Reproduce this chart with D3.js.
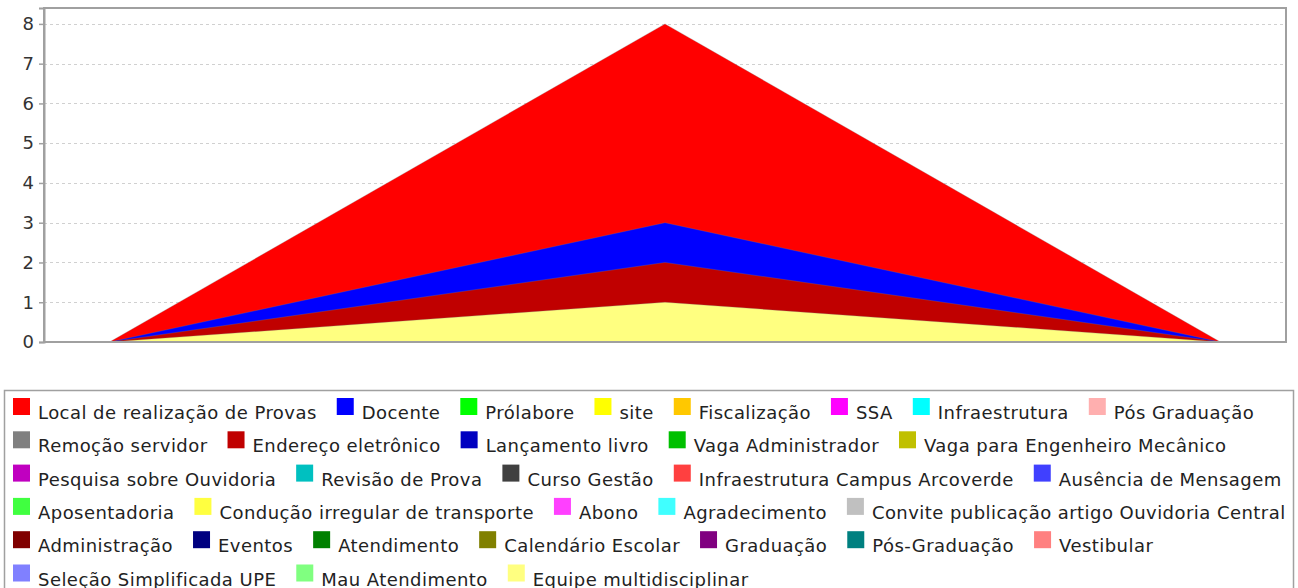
<!DOCTYPE html>
<html><head><meta charset="utf-8">
<script src="https://cdn.jsdelivr.net/npm/d3@7"></script>
<style>
body{margin:0;background:#fff;}
svg{display:block;font-family:"DejaVu Sans",sans-serif;}
</style></head>
<body><svg id="chart" width="1298" height="588"></svg>
<script>
// ---- data ----
const categories = [""];
const seriesNames = [
  "Local de realização de Provas","Docente","Prólabore","site","Fiscalização","SSA","Infraestrutura","Pós Graduação",
  "Remoção servidor","Endereço eletrônico","Lançamento livro","Vaga Administrador","Vaga para Engenheiro Mecânico",
  "Pesquisa sobre Ouvidoria","Revisão de Prova","Curso Gestão","Infraestrutura Campus Arcoverde","Ausência de Mensagem",
  "Aposentadoria","Condução irregular de transporte","Abono","Agradecimento","Convite publicação artigo Ouvidoria Central",
  "Administração","Eventos","Atendimento","Calendário Escolar","Graduação","Pós-Graduação","Vestibular",
  "Seleção Simplificada UPE","Mau Atendimento","Equipe multidisciplinar"
];
// one value per series for the single category
const seriesValues = [8,3,0,0,0,0,0,0, 0,2,0,0,0, 0,0,0,0,0, 0,0,0,0,0, 0,0,0,0,0,0,0, 0,0,1];
const yTicks = [0,1,2,3,4,5,6,7,8];
const palette = [
  "#FF0000","#0000FF","#00FF00","#FFFF00","#FFC800","#FF00FF","#00FFFF","#FFAFAF",
  "#808080","#C00000","#0000C0","#00C000","#C0C000","#C000C0","#00C0C0","#404040",
  "#FF4040","#4040FF","#40FF40","#FFFF40","#FF40FF","#40FFFF","#C0C0C0","#800000",
  "#000080","#008000","#808000","#800080","#008080","#FF8080","#8080FF","#80FF80","#FFFF80"
];

// ---- layout ----
const svg = d3.select("#chart");
const plot = {left:44, top:8, right:1286, bottom:342};

const x = d3.scaleBand().domain(categories).range([plot.left, plot.right])
  .paddingInner(0).paddingOuter(0.059);
const y = d3.scaleLinear().domain([0, 8.4]).range([plot.bottom, plot.top]);

// gridlines
svg.append("g").selectAll("line").data(yTicks).join("line")
  .attr("x1", plot.left).attr("x2", plot.right)
  .attr("y1", d => Math.round(y(d)) + 0.5).attr("y2", d => Math.round(y(d)) + 0.5)
  .attr("stroke", "#d0d0d0").attr("stroke-width", 1).attr("stroke-dasharray", "3,3");

// areas (overlapping, drawn in series order)
const area = d3.area()
  .x(d => d.x).y0(y(0)).y1(d => y(d.v));
const cat = categories[0];
const gA = svg.append("g");
seriesNames.forEach((name, i) => {
  const v = seriesValues[i];
  if (v <= 0) return;
  const pts = [
    {x: x(cat), v: 0},
    {x: x(cat) + x.bandwidth() / 2, v: v},
    {x: x(cat) + x.bandwidth(), v: 0}
  ];
  gA.append("path").datum(pts).attr("d", area).attr("fill", palette[i])
    .attr("stroke", "rgba(128,128,128,0.35)").attr("stroke-width", 0.8);
});

// plot border
svg.append("rect").attr("x", plot.left).attr("y", plot.top)
  .attr("width", plot.right - plot.left).attr("height", plot.bottom - plot.top)
  .attr("fill", "none").attr("stroke", "#a0a0a0").attr("stroke-width", 2);

// y axis
const yAxis = d3.axisLeft(y).tickValues(yTicks).tickSize(5).tickPadding(5).tickFormat(d3.format("d"));
const gy = svg.append("g").attr("transform", `translate(${plot.left},0)`).call(yAxis);
gy.select(".domain").attr("stroke", "#a0a0a0").attr("stroke-width", 2);
gy.selectAll(".tick line").attr("stroke", "#a0a0a0").attr("stroke-width", 1.5);
gy.selectAll(".tick text").attr("font-size", 18).attr("fill", "#333")
  .attr("font-family", "DejaVu Sans, sans-serif");

// legend
const legBox = {x:4, y:390, w:1289, h:220};
svg.append("rect").attr("x", legBox.x + 0.5).attr("y", legBox.y + 0.5)
  .attr("width", legBox.w).attr("height", legBox.h)
  .attr("fill", "#fff").attr("stroke", "#a0a0a0").attr("stroke-width", 1.5);

const gL = svg.append("g");
const sq = 17, gapSq = 8, gapItem = 20, rowH = 33.3, maxX = 1290;
let cx = 13, row = 0;
const baseline0 = 419;
seriesNames.forEach((name, i) => {
  const t = gL.append("text").text(name)
    .attr("font-size", 18).attr("letter-spacing", "0.45px").attr("fill", "#222");
  const w = t.node().getComputedTextLength();
  if (cx + sq + gapSq + w > maxX) { row++; cx = 13; }
  const by = baseline0 + row * rowH;
  gL.append("rect").attr("x", cx).attr("y", by - 21).attr("width", sq).attr("height", sq)
    .attr("fill", palette[i]);
  t.attr("x", cx + sq + gapSq).attr("y", by);
  cx += sq + gapSq + w + gapItem;
});
</script>
</body></html>
